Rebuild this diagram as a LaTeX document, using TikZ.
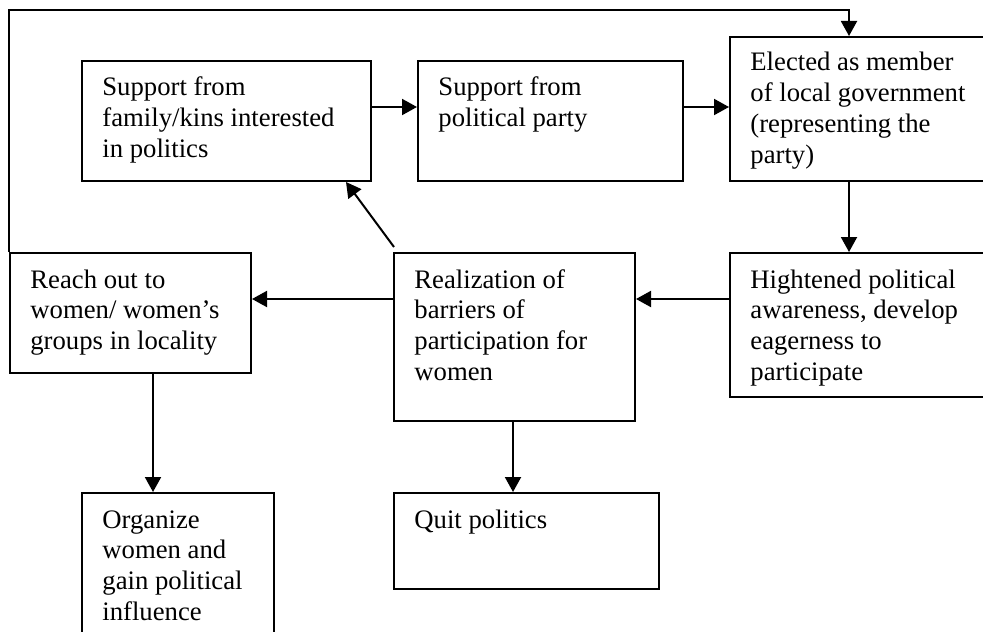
\documentclass[tikz,border=0pt]{standalone}
\usepackage{fontspec}
\setmainfont{Liberation Serif}
\usetikzlibrary{arrows.meta,calc}
\newcommand{\mylines}[1]{\begin{tabular}[t]{@{}l@{}}#1\end{tabular}}
\begin{document}
\begin{tikzpicture}[x=0.5pt,y=-0.5pt,
  boxnode/.style={draw, line width=1pt, rectangle, inner sep=0pt, anchor=north west},
  txt/.style={anchor=base west, inner sep=0pt, font=\fontsize{13.35pt}{15.35pt}\selectfont},
  arr/.style={line width=1pt, -{Triangle[length=7.5pt,width=8pt]}}]
\useasboundingbox (0,0) rectangle (983,631);
\clip (0,0) rectangle (983,631);
% boxes
\node[boxnode, minimum width=144.5pt, minimum height=60pt] (b1) at (81,60) {};
\node[boxnode, minimum width=132.5pt, minimum height=60pt] (b2) at (417,60) {};
\node[boxnode, minimum width=135.5pt, minimum height=72pt] (b3) at (729,36) {};
\node[boxnode, minimum width=135.5pt, minimum height=72pt] (b4) at (729,252) {};
\node[boxnode, minimum width=120.5pt, minimum height=84pt] (b5) at (393,252) {};
\node[boxnode, minimum width=120.5pt, minimum height=60pt] (b6) at (9,252) {};
\node[boxnode, minimum width=96pt, minimum height=84pt] (b7) at (81,492) {};
\node[boxnode, minimum width=132.5pt, minimum height=48pt] (b8) at (393,492) {};
% texts
\node[txt] (t1) at ($(b1.north west)+(21,36)$) {\mylines{Support from\\family/kins interested\\in politics}};
\node[txt] (t2) at ($(b2.north west)+(21,36)$) {\mylines{Support from\\political party}};
\node[txt] (t3) at ($(b3.north west)+(21,35)$) {\mylines{Elected as member\\of local government\\(representing the\\party)}};
\node[txt] (t4) at ($(b4.north west)+(21,36)$) {\mylines{Hightened political\\awareness, develop\\eagerness to\\participate}};
\node[txt] (t5) at ($(b5.north west)+(21,36)$) {\mylines{Realization of\\barriers of\\participation for\\women}};
\node[txt] (t6) at ($(b6.north west)+(21,36)$) {\mylines{Reach out to\\women/ women’s\\groups in locality}};
\node[txt] (t7) at ($(b7.north west)+(21,36)$) {\mylines{Organize\\women and\\gain political\\influence}};
\node[txt] (t8) at ($(b8.north west)+(21,36)$) {\mylines{Quit politics}};
% helper coordinates
\coordinate (cx) at (849,0);
\coordinate (cy) at (0,299);
\coordinate (cya) at (0,107);
\coordinate (cxl) at (153,0);
\coordinate (cxq) at (513,0);
\coordinate (ctop) at (0,10);
% connectors
\draw[arr] (b1.east |- cya) -- (b2.west |- cya);
\draw[arr] (b2.east |- cya) -- (b3.west |- cya);
\draw[arr] (b3.south -| cx) -- (b4.north -| cx);
\draw[arr] (b4.west |- cy) -- (b5.east |- cy);
\draw[arr] (b5.west |- cy) -- (b6.east |- cy);
\draw[arr] ($(b5.north west)+(1,-5)$) -- ($(b1.south west)+(265,0)$);
\draw[arr] (b6.south -| cxl) -- (b7.north -| cxl);
\draw[arr] (b5.south -| cxq) -- (b8.north -| cxq);
\draw[arr] (b6.north west) -- (b6.north west |- ctop) -| (b3.north -| cx);
\end{tikzpicture}
\end{document}
